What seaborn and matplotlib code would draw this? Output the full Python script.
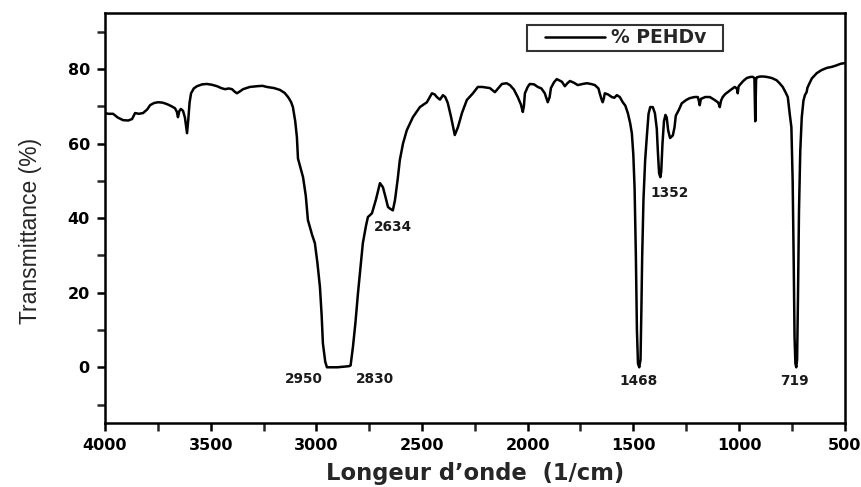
import matplotlib
matplotlib.use("Agg")
import matplotlib.pyplot as plt
import pandas as pd
import seaborn as sns
from matplotlib.ticker import MultipleLocator
from matplotlib.legend_handler import HandlerLine2D

# FTIR spectrum of PEHDv
wavenumber = [4000, 3985, 3962, 3940, 3915, 3890, 3872, 3858, 3840, 3820, 3800, 3787,
              3768, 3749, 3728, 3707, 3688, 3669, 3660, 3655, 3648, 3641, 3631, 3622,
              3616, 3612, 3606, 3600, 3593, 3580, 3565, 3540, 3518, 3495, 3470, 3450,
              3432, 3415, 3399, 3388, 3376, 3362, 3347, 3315, 3281, 3255, 3234, 3200,
              3172, 3150, 3134, 3120, 3111, 3100, 3092, 3087, 3075, 3063, 3050, 3040,
              3020, 3007, 2995, 2983, 2975, 2969, 2958, 2950, 2900, 2845, 2838, 2827,
              2815, 2803, 2790, 2780, 2765, 2756, 2737, 2718, 2699, 2685, 2672, 2661,
              2650, 2638, 2628, 2615, 2605, 2590, 2572, 2543, 2510, 2477, 2453, 2440,
              2430, 2415, 2401, 2390, 2378, 2362, 2345, 2330, 2311, 2288, 2259, 2236,
              2215, 2179, 2155, 2140, 2122, 2100, 2084, 2065, 2047, 2032, 2023, 2018,
              2013, 2000, 1990, 1970, 1952, 1935, 1919, 1905, 1896, 1890, 1875, 1862,
              1838, 1824, 1812, 1800, 1780, 1763, 1740, 1720, 1700, 1682, 1665, 1659,
              1650, 1645, 1640, 1635, 1620, 1602, 1590, 1578, 1564, 1550, 1538, 1526,
              1515, 1507, 1500, 1494, 1488, 1483, 1478, 1472, 1466, 1462, 1458, 1452,
              1444, 1436, 1428, 1420, 1408, 1398, 1389, 1384, 1378, 1372, 1368, 1362,
              1355, 1348, 1342, 1335, 1326, 1313, 1305, 1299, 1285, 1271, 1250, 1233,
              1210, 1195, 1190, 1186, 1180, 1160, 1138, 1118, 1100, 1095, 1091, 1085,
              1077, 1065, 1053, 1035, 1020, 1010, 1006, 1002, 997, 980, 963, 945,
              935, 927, 923, 919, 915, 900, 885, 869, 845, 822, 808, 793, 780, 769,
              760, 752, 746, 741, 737, 733, 729, 725, 721, 716, 710, 703, 695, 688,
              680, 676, 668, 655, 632, 610, 585, 560, 538, 520, 500]
transmittance = [68.2, 68.0, 68.0, 67.0, 66.3, 66.2, 66.6, 68.2, 68.0, 68.2, 69.2, 70.3,
                 70.9, 71.1, 71.0, 70.6, 70.1, 69.5, 68.5, 67.1, 68.8, 69.3, 68.8, 67.0,
                 64.5, 62.8, 66.5, 71.0, 73.5, 74.8, 75.4, 75.9, 76.0, 75.8, 75.4, 74.9,
                 74.6, 74.8, 74.6, 74.0, 73.5, 74.0, 74.6, 75.2, 75.4, 75.5, 75.2, 74.9,
                 74.4, 73.6, 72.5, 71.2, 69.8, 66.0, 61.7, 56.0, 53.5, 51.0, 46.0, 39.5,
                 35.5, 33.3, 28.0, 21.5, 14.0, 6.4, 1.5, 0.0, 0.0, 0.3, 0.5, 5.4,
                 12.0, 19.9, 27.5, 33.3, 38.0, 40.3, 41.3, 45.0, 49.4, 48.3, 45.5, 43.0,
                 42.5, 42.1, 44.8, 50.5, 55.6, 60.0, 63.6, 67.1, 69.8, 71.1, 73.5, 73.2,
                 72.5, 71.8, 73.0, 72.5, 70.9, 67.0, 62.3, 64.4, 68.2, 71.7, 73.5, 75.2,
                 75.2, 74.9, 73.8, 74.8, 76.0, 76.2, 75.7, 74.5, 72.5, 70.5, 68.5, 70.0,
                 73.5, 75.2, 76.0, 75.9, 75.2, 74.8, 73.5, 71.1, 72.5, 74.9, 76.5, 77.3,
                 76.6, 75.4, 76.2, 76.8, 76.3, 75.7, 76.0, 76.2, 76.0, 75.7, 74.8, 73.5,
                 71.8, 71.1, 72.0, 73.5, 73.2, 72.5, 72.3, 73.0, 72.5, 71.1, 70.2, 68.2,
                 65.5, 62.8, 57.0, 48.0, 30.0, 10.0, 1.0, 0.0, 2.0, 15.0, 30.0, 45.0,
                 55.6, 62.0, 68.0, 69.8, 69.8, 68.2, 64.0, 58.0, 52.0, 51.0, 52.5, 60.0,
                 66.0, 67.7, 67.0, 63.5, 61.5, 62.2, 64.4, 67.5, 69.0, 70.8, 71.7, 72.2,
                 72.5, 72.5, 71.5, 70.3, 72.0, 72.5, 72.5, 71.8, 71.1, 70.5, 69.8, 71.5,
                 72.5, 73.3, 73.8, 74.6, 75.2, 74.8, 73.5, 75.3, 75.7, 76.8, 77.6, 77.9,
                 77.9, 77.6, 66.0, 77.2, 77.8, 78.0, 78.0, 77.9, 77.6, 77.0, 76.2, 75.2,
                 73.8, 72.5, 68.0, 64.4, 50.0, 28.0, 8.0, 1.0, 0.0, 2.0, 18.0, 42.0,
                 58.0, 67.0, 71.5, 73.0, 73.8, 75.0, 76.0, 77.5, 78.9, 79.7, 80.3, 80.6,
                 81.0, 81.4, 81.6]

peak_labels = ["2950", "2830", "2634", "1352", "1468", "719"]
peak_x = [3059, 2723, 2638, 1328, 1474, 736]
peak_y = [-3.2, -3.2, 37.6, 46.7, -3.6, -3.6]

df = pd.DataFrame({"wavenumber": wavenumber, "transmittance": transmittance})

sns.set_theme(style="ticks")
plt.rcParams["font.family"] = ["DejaVu Sans"]

fig = plt.figure(figsize=(8.61, 4.87), dpi=100)
ax = fig.add_axes([0.122, 0.131, 0.859, 0.842])

sns.lineplot(data=df, x="wavenumber", y="transmittance", estimator=None,
             color="black", linewidth=1.8, label="% PEHDv  ", ax=ax)

for txt, px, py in zip(peak_labels, peak_x, peak_y):
    ax.text(px, py, txt, ha="center", va="center", fontsize=9.8,
            fontweight="bold", color="#1a1a1a")

ax.set_xlim(4000, 500)
ax.set_ylim(-15, 95)
ax.xaxis.set_major_locator(MultipleLocator(500))
ax.xaxis.set_minor_locator(MultipleLocator(250))
ax.yaxis.set_major_locator(MultipleLocator(20))
ax.yaxis.set_minor_locator(MultipleLocator(10))
ax.tick_params(axis="both", which="major", direction="out", length=6, width=1.8,
               labelsize=11.5, colors="black", pad=5)
ax.tick_params(axis="both", which="minor", direction="out", length=6, width=1.8)
ax.tick_params(top=False, right=False, which="both")
for lbl in ax.get_xticklabels() + ax.get_yticklabels():
    lbl.set_fontweight("bold")
for sp in ax.spines.values():
    sp.set_visible(True)
    sp.set_linewidth(1.8)
    sp.set_color("black")

ax.set_xlabel("Longeur d\u2019onde  (1/cm)", fontsize=16.3, fontweight="bold",
              family="DejaVu Sans", labelpad=6)
ax.set_ylabel("Transmittance (%)", fontsize=16.5, family="Liberation Sans")
ax.yaxis.set_label_coords(-0.085, 0.468)

leg = ax.legend(loc="upper right", bbox_to_anchor=(0.835, 0.971), borderaxespad=0,
                frameon=True, fancybox=False, edgecolor="black", handlelength=4.0,
                handletextpad=0.3, borderpad=0.18,
                handler_map={plt.Line2D: HandlerLine2D(xpad=0.8)},
                prop={"weight": "bold", "size": 13.5})
leg.get_frame().set_linewidth(1.5)

fig.savefig("out.png", dpi=100)
